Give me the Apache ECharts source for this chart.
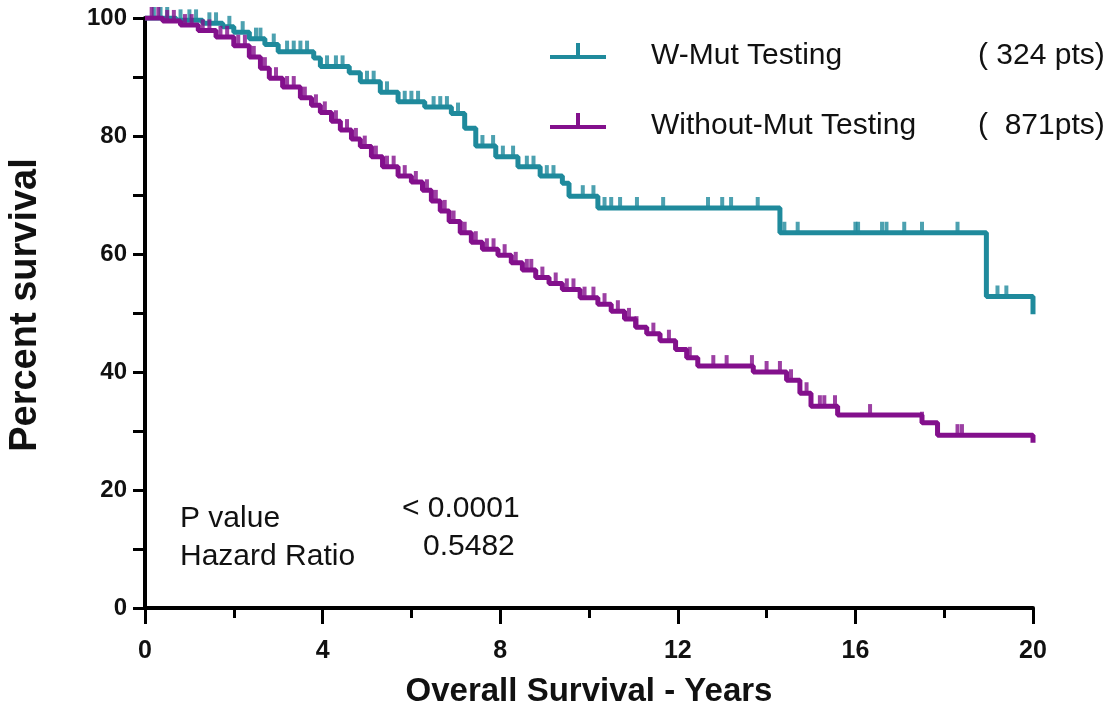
<!DOCTYPE html>
<html>
<head>
<meta charset="utf-8">
<script src="https://cdn.jsdelivr.net/npm/echarts@6/dist/echarts.min.js"></script>
<style>
  html, body { margin: 0; padding: 0; background: #fff; }
  #main { width: 1120px; height: 709px; }
</style>
</head>
<body>
<div id="main"></div>
<script>
// Kaplan-Meier steps: time (years) and survival (%) after each drop
var mutTimes = [0, 0.7, 1.3, 1.75, 2.0, 2.35, 2.7, 3.0, 3.8, 3.95, 4.6, 4.85, 5.3, 5.7, 6.3, 6.9, 7.2, 7.45, 7.9, 8.4, 8.9, 9.4, 9.55, 10.2, 14.3, 18.95, 20];
var mutSurv  = [100, 99.6, 99.1, 98.5, 97.6, 96.5, 95.5, 94.3, 93.2, 91.8, 90.7, 89.2, 87.4, 85.8, 84.9, 83.8, 81.3, 78.3, 76.5, 74.8, 73.2, 72.0, 69.8, 67.8, 63.6, 52.8, 49.8];
var mutCensor = [0.2, 0.35, 0.5, 0.8, 1.0, 1.15, 1.45, 1.6, 1.9, 2.2, 2.5, 2.6, 2.9, 3.2, 3.35, 3.5, 3.65, 4.1, 4.3, 4.45, 5.0, 5.15, 5.45, 5.85, 6.0, 6.15, 6.5, 6.65, 6.8, 7.05, 7.6, 7.84, 8.06, 8.29, 8.6, 8.75, 9.05, 9.2, 9.86, 10.1, 10.35, 10.5, 10.7, 11.08, 11.67, 12.68, 13.0, 13.2, 13.8, 14.4, 14.7, 16.0, 16.06, 16.6, 16.7, 17.1, 17.5, 18.3, 19.2, 19.4];

var woTimes = [0, 0.4, 0.8, 1.2, 1.6, 2.0, 2.35, 2.6, 2.8, 3.1, 3.5, 3.75, 3.95, 4.2, 4.4, 4.65, 4.85, 5.1, 5.35, 5.7, 6.0, 6.25, 6.45, 6.65, 6.85, 7.1, 7.35, 7.6, 7.95, 8.25, 8.5, 8.8, 9.1, 9.4, 9.8, 10.2, 10.5, 10.8, 11.05, 11.3, 11.6, 11.95, 12.2, 12.45, 13.7, 14.45, 14.75, 15.0, 15.6, 17.5, 17.85, 20];
var woSurv  = [100, 99.5, 98.8, 97.9, 96.8, 95.3, 93.4, 91.5, 89.8, 88.3, 86.5, 85.2, 84.0, 82.5, 81.0, 79.5, 78.2, 76.5, 74.8, 73.2, 72.2, 70.8, 69.0, 67.3, 65.5, 63.6, 62.0, 60.8, 59.8, 58.5, 57.3, 56.0, 55.0, 54.0, 52.6, 51.5, 50.3, 49.0, 47.6, 46.5, 45.3, 43.8, 42.4, 41.0, 40.0, 38.6, 36.4, 34.2, 32.7, 31.4, 29.3, 28.0];
var woCensor = [0.15, 0.3, 0.5, 0.65, 0.9, 1.05, 1.3, 1.45, 1.7, 1.85, 2.1, 2.25, 2.45, 2.7, 2.95, 3.2, 3.35, 3.6, 3.85, 4.05, 4.3, 4.55, 4.75, 4.95, 5.2, 5.45, 5.6, 5.85, 6.1, 6.35, 6.55, 6.75, 6.95, 7.2, 7.45, 7.7, 7.85, 8.1, 8.35, 8.6, 8.7, 8.95, 9.25, 9.5, 9.65, 9.9, 10.1, 10.35, 10.65, 10.9, 11.07, 11.45, 11.8, 12.27, 12.8, 13.1, 13.67, 14.0, 14.3, 14.55, 14.9, 15.2, 15.3, 15.54, 16.33, 17.5, 18.3, 18.4];

var names = ["W-Mut Testing", "Without-Mut Testing"];
var ptsText = {"W-Mut Testing": "( 324 pts)", "Without-Mut Testing": "(  871pts)"};
var colors = ["#1f8a9c", "#83108c"];

var xTicks = [0, 4, 8, 12, 16, 20];
var yTicks = [0, 20, 40, 60, 80, 100];

function toPairs(t, s){
    var out = [];
    for(var i = 0; i < t.length; i++){
        out.push([t[i], s[i]]);
    }
    return out;
}

// survival value of a step curve at time x
function survAt(t, s, x){
    var v = s[0];
    for(var i = 0; i < t.length; i++){
        if(t[i] <= x) v = s[i];
    }
    return v;
}

function censorPairs(t, s, c){
    var out = [];
    for(var i = 0; i < c.length; i++){
        out.push([c[i], survAt(t, s, c[i])]);
    }
    return out;
}

var font = "'Liberation Sans', Arial, sans-serif";
var legendIcon = "path://M0,12L56,12L56,16L0,16Z M26,0L30,0L30,13L26,13Z";

var myChart = echarts.init(document.getElementById("main"));
myChart.setOption({
    animation: false,
    backgroundColor: "#fff",
    grid: {left: 145, right: 87, top: 18, bottom: 101, containLabel: false, outerBoundsMode: "none"},
    legend: {
        data: names,
        orient: "vertical",
        left: 545,
        top: 26,
        itemWidth: 56,
        itemHeight: 16,
        itemGap: 30,
        icon: legendIcon,
        itemStyle: {borderWidth: 0},
        formatter: function(name){
            return "{g| }{n|" + name + "}{p|" + ptsText[name] + "}";
        },
        textStyle: {
            fontFamily: font,
            fontSize: 30,
            color: "#111",
            lineHeight: 30,
            padding: [10, 0, 0, 0],
            rich: {
                g: {width: 40, fontSize: 30, fontFamily: font},
                n: {width: 327, fontSize: 30, fontFamily: font, color: "#111"},
                p: {fontSize: 30, fontFamily: font, color: "#111"}
            }
        }
    },
    xAxis: {
        type: "value",
        min: 0,
        max: 20,
        interval: 4,
        name: "Overall Survival - Years",
        nameLocation: "middle",
        nameGap: 67,
        nameTextStyle: {fontFamily: font, fontSize: 33, fontWeight: "bold", color: "#111"},
        axisLine: {lineStyle: {color: "#000", width: 4}},
        axisTick: {length: 16, lineStyle: {color: "#000", width: 3}},
        minorTick: {show: true, splitNumber: 2, length: 10, lineStyle: {color: "#000", width: 3}},
        splitLine: {show: false},
        axisLabel: {
            margin: 31,
            fontFamily: font,
            fontSize: 25,
            fontWeight: "bold",
            color: "#111",
            formatter: function(v){ return xTicks.indexOf(v) >= 0 ? String(v) : ""; }
        }
    },
    yAxis: {
        type: "value",
        min: 0,
        max: 100,
        interval: 20,
        name: "Percent survival",
        nameLocation: "middle",
        nameGap: 100,
        nameRotate: 90,
        nameTextStyle: {fontFamily: font, fontSize: 38, fontWeight: "bold", color: "#111", padding: [0, 0, 0, 16]},
        axisLine: {show: true, lineStyle: {color: "#000", width: 4}},
        axisTick: {show: true, length: 12, lineStyle: {color: "#000", width: 3}},
        minorTick: {show: true, splitNumber: 2, length: 12, lineStyle: {color: "#000", width: 3}},
        splitLine: {show: false},
        axisLabel: {
            margin: 18,
            fontFamily: font,
            fontSize: 24,
            fontWeight: "bold",
            color: "#111",
            formatter: function(v){ return yTicks.indexOf(v) >= 0 ? String(v) : ""; }
        }
    },
    graphic: [
        {type: "text", left: 180, top: 504, style: {text: "P value", font: "30px " + font, fill: "#111"}},
        {type: "text", left: 180, top: 542, style: {text: "Hazard Ratio", font: "30px " + font, fill: "#111"}},
        {type: "text", left: 402, top: 494, style: {text: "< 0.0001", font: "30px " + font, fill: "#111"}},
        {type: "text", left: 423, top: 532, style: {text: "0.5482", font: "30px " + font, fill: "#111"}}
    ],
    series: [
        {
            name: names[0],
            type: "line",
            step: "end",
            showSymbol: false,
            color: colors[0],
            lineStyle: {width: 5, color: colors[0]},
            data: toPairs(mutTimes, mutSurv),
            z: 2
        },
        {
            name: "W-Mut censored",
            type: "scatter",
            symbol: "rect",
            symbolSize: [4, 12],
            symbolOffset: [0, -5],
            itemStyle: {color: colors[0]},
            data: censorPairs(mutTimes, mutSurv, mutCensor),
            z: 2
        },
        {
            name: names[1],
            type: "line",
            step: "end",
            showSymbol: false,
            color: colors[1],
            lineStyle: {width: 5, color: colors[1]},
            data: toPairs(woTimes, woSurv),
            z: 3
        },
        {
            name: "Without censored",
            type: "scatter",
            symbol: "rect",
            symbolSize: [4, 12],
            symbolOffset: [0, -5],
            itemStyle: {color: colors[1]},
            data: censorPairs(woTimes, woSurv, woCensor),
            z: 3
        }
    ]
});
</script>
</body>
</html>
